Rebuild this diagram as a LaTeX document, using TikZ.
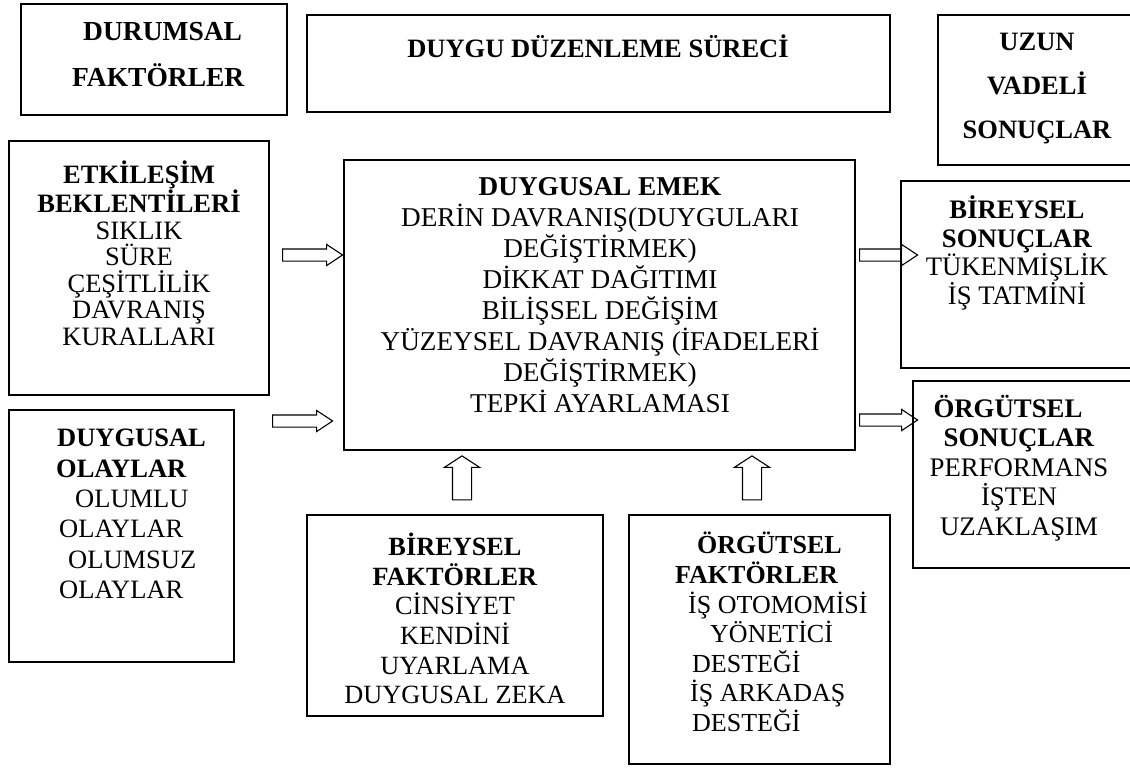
\documentclass[tikz,border=0pt]{standalone}
\usepackage{fontspec}
\setmainfont{Liberation Serif}
\usetikzlibrary{shapes.arrows}
\begin{document}
\begin{tikzpicture}[x=1pt,y=-1pt,
  box/.style={draw, line width=1.2pt, anchor=north west, inner sep=0pt, outer sep=0pt},
  txt/.style={align=center, inner sep=0pt},
  harrow/.style={draw, line width=1.1pt, shape=single arrow, inner sep=0pt, outer sep=0pt,
     text height=5.5pt, text depth=5.5pt, text width=0pt,
     single arrow head extend=4.5pt, single arrow tip angle=67},
  varrow/.style={draw, line width=1.1pt, shape=single arrow, inner sep=0pt, outer sep=0pt,
     text height=9pt, text depth=9pt, text width=0pt, rotate=90,
     single arrow head extend=8pt, single arrow tip angle=114, minimum height=44pt}]
\useasboundingbox (0,0) rectangle (1130,774);
% boxes
\node[box, minimum width=266pt, minimum height=111pt] (b1) at (21,4) {};
\node[box, minimum width=583pt, minimum height=97pt] (b2) at (307,15) {};
\node[box, minimum width=200pt, minimum height=150pt] (b3) at (938,15) {};
\node[box, minimum width=260pt, minimum height=254pt] (b4) at (9,141) {};
\node[box, minimum width=225pt, minimum height=252pt] (b5) at (9,410) {};
\node[box, minimum width=511pt, minimum height=290pt] (b6) at (344,160) {};
\node[box, minimum width=235pt, minimum height=187pt] (b7) at (901,181) {};
\node[box, minimum width=225pt, minimum height=187pt] (b8) at (913,381) {};
\node[box, minimum width=296pt, minimum height=201pt] (b9) at (307,515) {};
\node[box, minimum width=261pt, minimum height=249pt] (b10) at (629,515) {};
% texts
\node[txt, align=left, anchor=west, font=\bfseries\fontsize{27.5}{46}\selectfont] (t1) at (72,55)
  {\hspace*{11pt}DURUMSAL\\FAKTÖRLER};
\node[txt, font=\bfseries\fontsize{26.5}{30}\selectfont] (t2) at (598,46) {DUYGU DÜZENLEME SÜRECİ};
\node[txt, font=\bfseries\fontsize{26.5}{44}\selectfont] (t3) at (1037,89) {UZUN\\VADELİ\\SONUÇLAR};
\node[txt, font=\fontsize{26.5}{26.5}\selectfont] (t4) at (139,253)
  {\textbf{ETKİLEŞİM}\\\textbf{BEKLENTİLERİ}\\SIKLIK\\SÜRE\\ÇEŞİTLİLİK\\DAVRANIŞ\\KURALLARI};
\node[txt, align=left, anchor=west, font=\fontsize{26.5}{30.4}\selectfont] (t5) at (56,514)
  {\hspace*{1pt}\textbf{DUYGUSAL}\\\textbf{OLAYLAR}\\\hspace*{19pt}OLUMLU\\\hspace*{3pt}OLAYLAR\\\hspace*{12pt}OLUMSUZ\\\hspace*{3pt}OLAYLAR};
\node[txt, font=\fontsize{27.2}{30.9}\selectfont] (t6) at (600,295)
  {\textbf{DUYGUSAL EMEK}\\DERİN DAVRANIŞ(DUYGULARI\\DEĞİŞTİRMEK)\\DİKKAT DAĞITIMI\\BİLİŞSEL DEĞİŞİM\\YÜZEYSEL DAVRANIŞ (İFADELERİ\\DEĞİŞTİRMEK)\\TEPKİ AYARLAMASI};
\node[txt, font=\fontsize{26.7}{28.5}\selectfont] (t7) at (1017,253)
  {\textbf{BİREYSEL}\\\textbf{SONUÇLAR}\\TÜKENMİŞLİK\\İŞ TATMİNİ};
\node[txt, font=\fontsize{26.8}{29.5}\selectfont] (t8) at (1019,468)
  {\textbf{ÖRGÜTSEL}\hspace*{22pt}\\\textbf{SONUÇLAR}\hspace*{8pt}\\PERFORMANS\\İŞTEN\\UZAKLAŞIM};
\node[txt, font=\fontsize{26.3}{29.6}\selectfont] (t9) at (455,618.5)
  {\textbf{BİREYSEL}\\\textbf{FAKTÖRLER}\\CİNSİYET\\KENDİNİ\\UYARLAMA\\DUYGUSAL ZEKA};
\node[txt, align=left, anchor=west, font=\fontsize{26}{29.6}\selectfont] (t10) at (675,632)
  {\hspace*{22pt}\textbf{ÖRGÜTSEL}\\\textbf{FAKTÖRLER}\\\hspace*{13pt}İŞ OTOMOMİSİ\\\hspace*{35pt}YÖNETİCİ\\\hspace*{17pt}DESTEĞİ\\\hspace*{15pt}İŞ ARKADAŞ\\\hspace*{17pt}DESTEĞİ};
% block arrows
\node[harrow, minimum height=60pt] (a1) at (308,255) {};
\node[harrow, minimum height=60pt] (a2) at (298,421) {};
\node[harrow, minimum height=58pt] (a3) at (884,255) {};
\node[harrow, minimum height=58pt] (a4) at (884,420) {};
\node[varrow] (a5) at (462,481) {};
\node[varrow] (a6) at (752,481) {};
\end{tikzpicture}
\end{document}
